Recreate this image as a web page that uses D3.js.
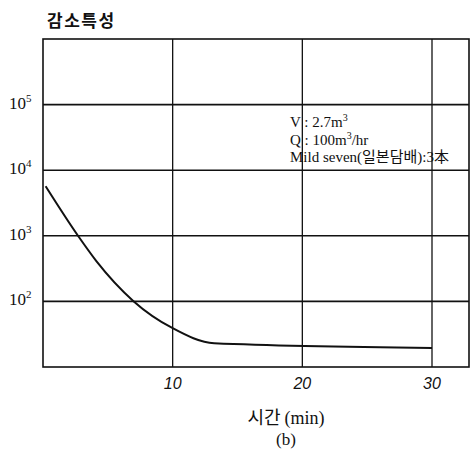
<!DOCTYPE html>
<html>
<head>
<meta charset="utf-8">
<script src="https://cdn.jsdelivr.net/npm/d3@7"></script>
<style>
  body { margin: 0; background: #fff; }
  svg text { fill: #111; }
</style>
</head>
<body>
<div id="chart"></div>
<script>
// decay curve, time (min) vs concentration (log scale)
const times = [0.2, 2.7, 4.1, 7.0, 10, 13.2, 30];
const values = [5700, 1000, 415, 100, 39, 23, 19.5];

const xTicks = [10, 20, 30];
const yTicks = [1e2, 1e3, 1e4, 1e5];
const yExps = ["2", "3", "4", "5"];

const notes = ["V : 2.7m", "Q : 100m", "Mild seven(일본담배):3本"];

const W = 470, H = 456;
const svg = d3.select("#chart").append("svg")
  .attr("width", W).attr("height", H);

const x = d3.scaleLinear().domain([0, 30]).range([43, 432]);
const y = d3.scaleLog().domain([10, 1e6]).range([367, 39]);
const xRight = 469;

// frame + grid
const grid = svg.append("g").attr("stroke", "#111").attr("stroke-width", 1.6).attr("fill", "none");
grid.append("rect")
  .attr("x", x(0)).attr("y", y(1e6))
  .attr("width", xRight - x(0)).attr("height", y(10) - y(1e6));

grid.selectAll("line.h").data(yTicks).enter().append("line")
  .attr("class", "h")
  .attr("x1", x(0)).attr("x2", xRight)
  .attr("y1", d => y(d)).attr("y2", d => y(d));

grid.selectAll("line.v").data(xTicks).enter().append("line")
  .attr("class", "v")
  .attr("stroke-width", 1.3)
  .attr("x1", d => x(d)).attr("x2", d => x(d))
  .attr("y1", y(1e6)).attr("y2", y(10));

// y tick labels 10^n
const yl = svg.selectAll("text.ylab").data(yTicks).enter().append("text")
  .attr("class", "ylab")
  .attr("x", 9).attr("y", d => y(d) + 4)
  .style("font-family", "'Liberation Serif', 'DejaVu Serif', serif")
  .style("font-size", "17px");
yl.append("tspan").text("10");
yl.append("tspan").attr("dy", -7).style("font-size", "11px").text((d, i) => yExps[i]);

// x tick labels
svg.selectAll("text.xlab").data(xTicks).enter().append("text")
  .attr("class", "xlab")
  .attr("x", d => x(d)).attr("y", 389)
  .attr("text-anchor", "middle")
  .style("font-family", "'Liberation Sans', Arial, sans-serif")
  .style("font-style", "italic")
  .style("font-size", "16px")
  .text(d => d);

// curve
const line = d3.line()
  .x((d, i) => x(times[i]))
  .y(d => y(d))
  .curve(d3.curveMonotoneX);

svg.append("path")
  .datum(values)
  .attr("d", line)
  .attr("fill", "none")
  .attr("stroke", "#111")
  .attr("stroke-width", 2);

// title
svg.append("text")
  .attr("x", 47).attr("y", 27)
  .style("font-family", "'Noto Sans CJK KR', sans-serif")
  .style("font-weight", 700)
  .style("font-size", "17px")
  .style("letter-spacing", "1.5px")
  .text("감소특성");

// x axis title
const xt = svg.append("text")
  .attr("x", 286).attr("y", 424)
  .attr("text-anchor", "middle")
  .style("font-size", "18px");
xt.append("tspan").style("font-family", "'Noto Sans CJK KR', sans-serif").text("시간 ");
xt.append("tspan").style("font-family", "'Liberation Serif', serif").text("(min)");

svg.append("text")
  .attr("x", 286).attr("y", 445)
  .attr("text-anchor", "middle")
  .style("font-family", "'Liberation Serif', serif")
  .style("font-size", "17px")
  .text("(b)");

// annotation
const ann = svg.append("g")
  .style("font-family", "'Liberation Serif', 'Noto Sans CJK KR', serif")
  .style("font-size", "15px");

const t0 = ann.append("text").attr("x", 290).attr("y", 127);
t0.append("tspan").text(notes[0]);
t0.append("tspan").attr("dy", -6).style("font-size", "10px").text("3");

const t1 = ann.append("text").attr("x", 290).attr("y", 145);
t1.append("tspan").text(notes[1]);
t1.append("tspan").attr("dy", -6).style("font-size", "10px").text("3");
t1.append("tspan").attr("dy", 6).text("/hr");

ann.append("text").attr("x", 290).attr("y", 162).text(notes[2]);
</script>
</body>
</html>
